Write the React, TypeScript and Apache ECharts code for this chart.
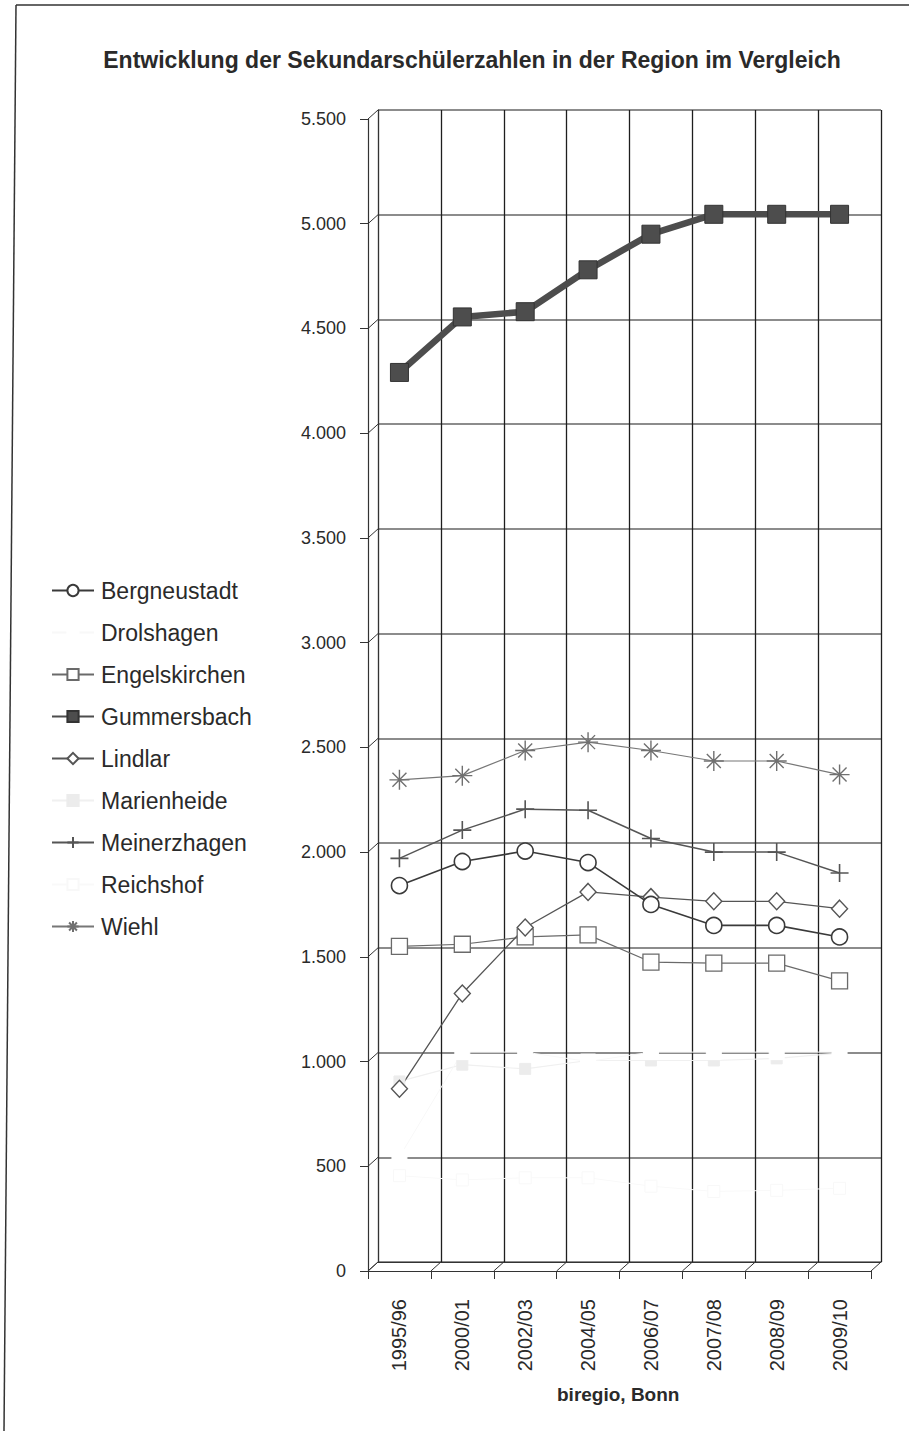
import React, { useEffect, useRef } from "react";
import * as echarts from "echarts";

// School years on the category axis
const years = ["1995/96", "2000/01", "2002/03", "2004/05", "2006/07", "2007/08", "2008/09", "2009/10"];

// Value-axis ticks (0 … 5.500, step 500)
const yTicks = [0, 500, 1000, 1500, 2000, 2500, 3000, 3500, 4000, 4500, 5000, 5500];

// Pupil numbers per municipality
const bergneustadt = [1840, 1955, 2005, 1950, 1750, 1650, 1650, 1595];
const drolshagen = [545, 1045, 1045, 1000, 1045, 1045, 1045, 1045];
const engelskirchen = [1550, 1560, 1595, 1605, 1475, 1470, 1470, 1385];
const gummersbach = [4290, 4555, 4580, 4780, 4950, 5045, 5045, 5045];
const lindlar = [870, 1325, 1640, 1810, 1785, 1765, 1765, 1730];
const marienheide = [905, 985, 965, 1005, 1005, 1005, 1015, 1040];
const meinerzhagen = [1970, 2105, 2205, 2200, 2065, 2000, 2000, 1900];
const reichshof = [455, 435, 445, 445, 405, 380, 385, 395];
const wiehl = [2345, 2365, 2485, 2525, 2485, 2435, 2435, 2370];

const FONT = "'Liberation Sans', Arial, Helvetica, sans-serif";

const PLUS = "path://M0,10L20,10M10,0L10,20";
const STAR = "path://M0,10L20,10M10,0L10,20M3,3L17,17M17,3L3,17";

// Depth offset between the front axes and the back wall
const DX = 10;
const DY = 9;

function fmtThousands(v: number): string {
  if (v < 1000) return String(v);
  const th = Math.floor(v / 1000);
  const rest = String(v % 1000).padStart(3, "0");
  return th + "." + rest;
}

export default function App() {
  const ref = useRef<HTMLDivElement>(null);

  useEffect(() => {
    if (!ref.current) return;
    const chart = echarts.init(ref.current, undefined, { renderer: "svg" });

    const lineSeries = (
      name: string,
      data: number[],
      opts: { symbol: string; size: number | number[]; fill: string; stroke: string; bw: number; lc: string; lw: number; z?: number }
    ) => ({
      name,
      type: "line",
      xAxisIndex: 1,
      yAxisIndex: 1,
      data,
      symbol: opts.symbol,
      symbolSize: opts.size,
      showAllSymbol: true,
      z: opts.z ?? 3,
      itemStyle: { color: opts.fill, borderColor: opts.stroke, borderWidth: opts.bw },
      lineStyle: { color: opts.lc, width: opts.lw },
      emphasis: { disabled: true },
    });

    chart.setOption({
      animation: false,
      backgroundColor: "#ffffff",
      title: {
        text: "Entwicklung der Sekundarschülerzahlen in der Region im Vergleich",
        left: 467,
        top: 43,
        textAlign: "center",
        textStyle: { fontFamily: FONT, fontSize: 23, fontWeight: "bold", color: "#2a2a2a" },
      },
      legend: {
        orient: "vertical",
        left: 46,
        top: 574,
        itemWidth: 42,
        itemHeight: 14,
        itemGap: 19,
        selectedMode: false,
        textStyle: { fontFamily: FONT, fontSize: 23, color: "#2a2a2a", padding: [0, 0, 0, 2] },
        data: ["Bergneustadt", "Drolshagen", "Engelskirchen", "Gummersbach", "Lindlar", "Marienheide", "Meinerzhagen", "Reichshof", "Wiehl"],
      },
      grid: [
        { left: 378, top: 110, width: 503, height: 1152 },
        { left: 378 - DX, top: 110 + DY, width: 503, height: 1152 },
      ],
      xAxis: [
        {
          type: "category",
          gridIndex: 0,
          data: years,
          boundaryGap: true,
          axisLine: { show: true, lineStyle: { color: "#333", width: 1 } },
          axisTick: { show: false },
          axisLabel: { show: false },
          splitLine: { show: true, interval: 0, lineStyle: { color: "#1e1e1e", width: 1.3 } },
        },
        {
          type: "category",
          gridIndex: 1,
          data: years,
          boundaryGap: true,
          axisLine: { show: true, lineStyle: { color: "#333", width: 1.2 } },
          axisTick: { show: true, interval: 0, length: 8, lineStyle: { color: "#333" } },
          axisLabel: {
            interval: 0,
            rotate: 90,
            margin: 28,
            fontFamily: FONT,
            fontSize: 20,
            color: "#2a2a2a",
          },
          splitLine: { show: false },
        },
      ],
      yAxis: [
        {
          type: "value",
          gridIndex: 0,
          min: 0,
          max: 5500,
          interval: 500,
          axisLine: { show: true, lineStyle: { color: "#333", width: 1 } },
          axisTick: { show: false },
          axisLabel: { show: false },
          splitLine: { show: true, lineStyle: { color: "#666", width: 1.6 } },
        },
        {
          type: "value",
          gridIndex: 1,
          min: 0,
          max: 5500,
          interval: 500,
          axisLine: { show: true, lineStyle: { color: "#333", width: 1.2 } },
          axisTick: { show: true, length: 8, lineStyle: { color: "#333" } },
          axisLabel: {
            margin: 22,
            fontFamily: FONT,
            fontSize: 18,
            color: "#2a2a2a",
            formatter: (v: number) => fmtThousands(v),
          },
          splitLine: { show: false },
        },
      ],
      series: [
        // diagonal connectors from the front value ticks to the back wall
        {
          type: "custom",
          xAxisIndex: 0,
          yAxisIndex: 0,
          silent: true,
          clip: false,
          z: 1,
          data: yTicks.map((v) => [0, v]),
          renderItem: (params: any, api: any) => {
            const cs = params.coordSys;
            const y = api.coord([0, api.value(1)])[1];
            return {
              type: "line",
              shape: { x1: cs.x - DX, y1: y + DY, x2: cs.x, y2: y },
              style: { stroke: "#333", lineWidth: 1 },
            };
          },
        },
        // floor diagonals at each category boundary
        {
          type: "custom",
          xAxisIndex: 0,
          yAxisIndex: 0,
          silent: true,
          clip: false,
          z: 1,
          data: years.concat([""]).map((_, i) => [0, 0, i]),
          renderItem: (params: any, api: any) => {
            const bw = api.size([1, 0])[0];
            const c = api.coord([0, 0]);
            const xb = c[0] + (api.value(2) - 0.5) * bw;
            return {
              type: "line",
              shape: { x1: xb - DX, y1: c[1] + DY, x2: xb, y2: c[1] },
              style: { stroke: "#333", lineWidth: 1 },
            };
          },
        },
        lineSeries("Reichshof", reichshof, { symbol: "rect", size: 12, fill: "#ffffff", stroke: "#f8f8f8", bw: 1, lc: "#f9f9f9", lw: 1 }),
        lineSeries("Marienheide", marienheide, { symbol: "rect", size: 11, fill: "#ececec", stroke: "#ececec", bw: 1, lc: "#f0f0f0", lw: 1.2 }),
        lineSeries("Drolshagen", drolshagen, { symbol: "rect", size: 15, fill: "#ffffff", stroke: "#ffffff", bw: 1, lc: "#f8f8f8", lw: 1 }),
        lineSeries("Engelskirchen", engelskirchen, { symbol: "rect", size: 16, fill: "#ffffff", stroke: "#6a6a6a", bw: 1.3, lc: "#6a6a6a", lw: 1.2 }),
        lineSeries("Lindlar", lindlar, { symbol: "diamond", size: [16, 17], fill: "#ffffff", stroke: "#555", bw: 1.4, lc: "#555", lw: 1.3 }),
        lineSeries("Bergneustadt", bergneustadt, { symbol: "circle", size: 16, fill: "#ffffff", stroke: "#3a3a3a", bw: 1.6, lc: "#3a3a3a", lw: 1.6 }),
        lineSeries("Meinerzhagen", meinerzhagen, { symbol: PLUS, size: 18, fill: "transparent", stroke: "#555", bw: 1.6, lc: "#555", lw: 1.5 }),
        lineSeries("Wiehl", wiehl, { symbol: STAR, size: 20, fill: "transparent", stroke: "#707070", bw: 1.4, lc: "#777", lw: 1.2 }),
        lineSeries("Gummersbach", gummersbach, { symbol: "rect", size: 18, fill: "#4d4d4d", stroke: "#333", bw: 1, lc: "#4d4d4d", lw: 6.5, z: 4 }),
      ],
      graphic: [
        {
          type: "text",
          left: 557,
          top: 1385,
          style: { text: "biregio, Bonn", fontFamily: FONT, fontSize: 19, fontWeight: "bold", fill: "#2a2a2a" },
        },
        { type: "line", shape: { x1: 16, y1: 5, x2: 909, y2: 5 }, style: { stroke: "#333", lineWidth: 1.5 } },
        { type: "line", shape: { x1: 16, y1: 5, x2: 4, y2: 1431 }, style: { stroke: "#333", lineWidth: 1.5 } },
      ],
    });

    return () => chart.dispose();
  }, []);

  return (
    <div
      ref={ref}
      style={{ position: "absolute", left: 0, top: 0, width: 909, height: 1431, background: "#fff" }}
    />
  );
}
